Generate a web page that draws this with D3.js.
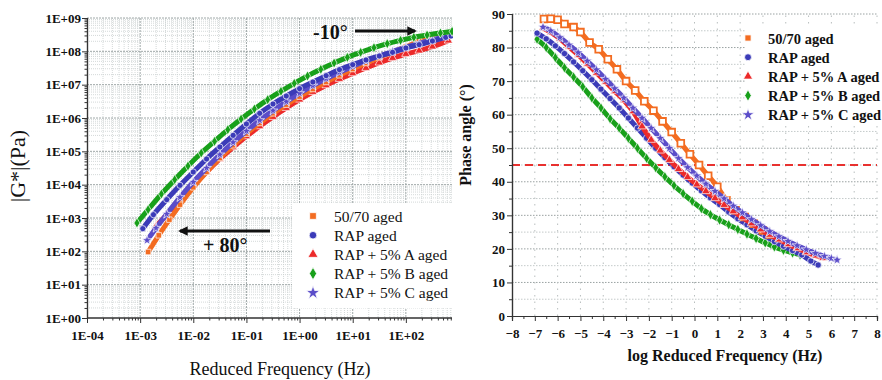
<!DOCTYPE html>
<html>
<head>
<meta charset="utf-8">
<script src="https://cdn.jsdelivr.net/npm/d3@7"></script>
<style>
  body { margin: 0; background: #fff; }
  svg { display: block; }
  text { font-family: "Liberation Serif", "DejaVu Serif", "Noto Serif", serif; fill: #111; }
</style>
</head>
<body>
<svg id="chart" width="882" height="380"></svg>
<script>
// series
const seriesNames = ["50/70 aged", "RAP aged", "RAP + 5% A aged", "RAP + 5% B aged", "RAP + 5% C aged"];
const seriesColors = ["#f36c21", "#3b3bb8", "#ec2a2a", "#18a01a", "#5b4dc9"];
const seriesSymbols = [d3.symbolSquare, d3.symbolCircle, d3.symbolTriangle, d3.symbolDiamond, d3.symbolStar];

// left: master curves, log10 reduced frequency (Hz) vs log10 |G*| (Pa)
const modFreq5070 = [-2.85,-2.65,-2.45,-2.25,-2.0,-1.75,-1.5,-1.25,-1.0,-0.75,-0.5,-0.25,0,0.25,0.5,0.75,1.0,1.25,1.5,1.75,2.0,2.25,2.5,2.6];
const modG5070    = [1.98,2.48,2.95,3.4,3.92,4.38,4.8,5.18,5.53,5.85,6.14,6.4,6.64,6.87,7.08,7.28,7.47,7.65,7.82,7.98,8.14,8.3,8.46,8.52];
const modFreqRAP  = [-2.95,-2.75,-2.5,-2.25,-2.0,-1.75,-1.5,-1.25,-1.0,-0.75,-0.5,-0.25,0,0.25,0.5,0.75,1.0,1.25,1.5,1.75,2.0,2.25,2.5,2.75,2.85];
const modGRAP     = [2.68,3.1,3.55,3.98,4.38,4.77,5.13,5.48,5.82,6.14,6.42,6.66,6.88,7.08,7.27,7.45,7.6,7.74,7.86,7.97,8.1,8.2,8.31,8.42,8.46];
const modFreqA    = [-2.7,-2.5,-2.25,-2.0,-1.75,-1.5,-1.25,-1.0,-0.75,-0.5,-0.25,0,0.25,0.5,0.75,1.0,1.25,1.5,1.75,2.0,2.25,2.5,2.8];
const modGA       = [2.75,3.1,3.55,3.98,4.38,4.77,5.12,5.45,5.75,6.03,6.3,6.55,6.78,6.98,7.17,7.34,7.5,7.66,7.8,7.92,8.02,8.14,8.32];
const modFreqB    = [-3.06,-2.85,-2.6,-2.35,-2.1,-1.85,-1.6,-1.35,-1.1,-0.85,-0.6,-0.35,-0.1,0.15,0.4,0.65,0.9,1.15,1.4,1.65,1.9,2.15,2.4,2.65,2.87];
const modGB       = [2.85,3.25,3.72,4.15,4.56,4.95,5.3,5.65,5.97,6.27,6.55,6.8,7.04,7.26,7.46,7.65,7.82,7.97,8.11,8.23,8.33,8.42,8.49,8.55,8.6];
const modFreqC    = [-2.87,-2.7,-2.5,-2.25,-2.0,-1.75,-1.5,-1.25,-1.0,-0.75,-0.5,-0.25,0,0.25,0.5,0.75,1.0,1.25,1.5,1.75,2.0,2.25,2.5,2.75];
const modGC       = [2.33,2.7,3.12,3.62,4.08,4.5,4.9,5.27,5.61,5.93,6.22,6.49,6.74,6.97,7.18,7.37,7.55,7.71,7.86,8.0,8.12,8.24,8.35,8.45];

// right: log10 reduced frequency vs phase angle (deg)
const phFreq5070 = [-6.6,-6.3,-6.0,-5.7,-5.3,-5.0,-4.6,-4.2,-3.8,-3.4,-3.0,-2.6,-2.2,-1.8,-1.4,-1.0,-0.6,-0.2,0.2,0.6,1.0,1.4,1.8,2.2,2.6,3.0,3.3];
const phAng5070  = [88.5,88.6,88.3,87.0,86.1,84.6,81.5,79.5,76.5,73.5,70.0,67.2,64.0,61.2,58.0,54.8,51.5,48.2,45.0,41.8,38.5,34.5,31.5,29.5,27.5,25.5,24.3];
const phFreqRAP  = [-6.9,-6.5,-6.1,-5.7,-5.3,-4.9,-4.5,-4.1,-3.7,-3.3,-2.9,-2.5,-2.1,-1.7,-1.3,-0.9,-0.5,-0.1,0.3,0.7,1.1,1.5,1.9,2.3,2.7,3.1,3.5,3.9,4.3,4.7,5.1,5.42];
const phAngRAP   = [84.3,82.6,80.5,78.2,75.7,73.1,70.4,67.6,64.8,62.0,59.0,56.0,53.0,50.0,47.2,44.5,42.0,39.6,37.3,35.2,33.2,31.0,29.0,27.2,25.4,23.8,22.2,20.8,19.5,18.2,16.4,15.2];
const phFreqA    = [-6.64,-6.3,-5.9,-5.5,-5.1,-4.7,-4.3,-3.9,-3.5,-3.1,-2.7,-2.3,-1.9,-1.5,-1.1,-0.7,-0.3,0.1,0.5,0.9,1.3,1.7,2.1,2.5,2.9,3.3,3.7,4.1,4.5,4.9,5.3,5.64];
const phAngA     = [85.8,84.5,82.6,80.2,77.8,75.2,72.5,69.8,67.0,64.3,61.0,56.5,52.5,49.3,46.5,43.8,41.4,39.2,37.2,35.1,33.1,31.2,29.4,27.6,25.8,24.2,22.8,21.4,20.2,19.0,18.0,17.3];
const phFreqB    = [-6.9,-6.5,-6.1,-5.7,-5.3,-4.9,-4.5,-4.1,-3.7,-3.3,-2.9,-2.5,-2.1,-1.7,-1.3,-0.9,-0.5,-0.1,0.3,0.7,1.1,1.5,1.9,2.3,2.7,3.1,3.5,3.9,4.3,4.63];
const phAngB     = [82.5,80.0,77.0,74.0,71.2,68.3,65.0,62.0,58.8,56.0,53.0,50.0,47.0,44.2,41.5,38.9,36.5,34.2,32.0,30.2,28.6,27.2,25.8,24.4,23.1,21.8,20.6,19.6,18.8,18.2];
const phFreqC    = [-6.64,-6.3,-5.9,-5.5,-5.1,-4.7,-4.3,-3.9,-3.5,-3.1,-2.7,-2.3,-1.9,-1.5,-1.1,-0.7,-0.3,0.1,0.5,0.9,1.3,1.7,2.1,2.5,2.9,3.3,3.7,4.1,4.5,4.9,5.3,5.7,6.0,6.25];
const phAngC     = [86.1,85.0,83.0,80.8,78.5,76.0,73.4,70.6,67.8,65.0,62.0,59.0,56.0,53.0,50.0,47.0,44.3,41.8,39.4,37.2,35.0,32.8,30.8,28.8,27.0,25.2,23.7,22.3,21.0,19.8,18.7,17.8,17.2,16.7];

const leftTicksX = [-4, -3, -2, -1, 0, 1, 2];
const leftTicksY = [0, 1, 2, 3, 4, 5, 6, 7, 8, 9];
const rightTicksX = d3.range(-8, 9);
const rightTicksY = [0, 10, 20, 30, 40, 50, 60, 70, 80, 90];
const refAngle = 45;

const zip = (xs, ys) => xs.map((x, i) => [x, ys[i]]);
const modSeries = [zip(modFreq5070, modG5070), zip(modFreqRAP, modGRAP), zip(modFreqA, modGA), zip(modFreqB, modGB), zip(modFreqC, modGC)];
const phSeries = [zip(phFreq5070, phAng5070), zip(phFreqRAP, phAngRAP), zip(phFreqA, phAngA), zip(phFreqB, phAngB), zip(phFreqC, phAngC)];

const svg = d3.select("#chart");
const defs = svg.append("defs");
defs.append("clipPath").attr("id", "left-clip")
  .append("rect").attr("x", 80).attr("y", 0).attr("width", 373).attr("height", 330);
defs.append("marker").attr("id", "arrow")
  .attr("viewBox", "0 0 10 10").attr("refX", 8).attr("refY", 5)
  .attr("markerWidth", 3.2).attr("markerHeight", 3.2).attr("orient", "auto-start-reverse")
  .append("path").attr("d", "M0,0L10,5L0,10z").attr("fill", "#111");

const expLabel = e => "1E" + (e < 0 ? "-" : "+") + String(Math.abs(e)).padStart(2, "0");

// ---------------- left chart ----------------
const xL = d3.scaleLog().domain([1e-4, 1e3]).range([87, 459]);
const yL = d3.scaleLog().domain([1, 1e9]).range([318, 18]);
const gL = svg.append("g");

const gridL = gL.append("g").attr("clip-path", "url(#left-clip)");
const minorX = [], minorY = [];
d3.range(-4, 3).forEach(e => d3.range(2, 10).forEach(k => minorX.push(k * 10 ** e)));
d3.range(0, 9).forEach(e => d3.range(2, 10).forEach(k => minorY.push(k * 10 ** e)));
gridL.selectAll(".mx").data(minorX).enter().append("line")
  .attr("x1", d => xL(d)).attr("x2", d => xL(d)).attr("y1", yL(1e9)).attr("y2", yL(1))
  .attr("stroke", "#c9cfcf").attr("stroke-width", 0.8).attr("stroke-dasharray", "1,1");
gridL.selectAll(".my").data(minorY).enter().append("line")
  .attr("x1", xL(1e-4)).attr("x2", 452).attr("y1", d => yL(d)).attr("y2", d => yL(d))
  .attr("stroke", "#c9cfcf").attr("stroke-width", 0.8).attr("stroke-dasharray", "1,1");
gridL.selectAll(".Mx").data(d3.range(-3, 3)).enter().append("line")
  .attr("x1", d => xL(10 ** d)).attr("x2", d => xL(10 ** d)).attr("y1", yL(1e9)).attr("y2", yL(1))
  .attr("stroke", "#9fa8a8").attr("stroke-width", 1).attr("stroke-dasharray", "2,1");
gridL.selectAll(".My").data(d3.range(1, 10)).enter().append("line")
  .attr("x1", xL(1e-4)).attr("x2", 452).attr("y1", d => yL(10 ** d)).attr("y2", d => yL(10 ** d))
  .attr("stroke", "#9fa8a8").attr("stroke-width", 1).attr("stroke-dasharray", "2,1");

// left legend background (covers grid)
gL.append("rect").attr("x", 292).attr("y", 203).attr("width", 160).attr("height", 105).attr("fill", "#fff");

// left data
const lineL = d3.line().x(d => xL(10 ** d[0])).y(d => yL(10 ** d[1])).curve(d3.curveMonotoneX);
const dataL = gL.append("g").attr("clip-path", "url(#left-clip)");
[2, 0, 4, 1, 3].forEach(i => {
  dataL.append("path").datum(modSeries[i]).attr("d", lineL)
    .attr("fill", "none").attr("stroke", seriesColors[i]).attr("stroke-width", 5).attr("stroke-linecap", "round");
  dataL.selectAll(".pL" + i).data(modSeries[i]).enter().append("path")
    .attr("transform", d => `translate(${xL(10 ** d[0])},${yL(10 ** d[1])})`)
    .attr("d", d3.symbol().type(seriesSymbols[i]).size(30))
    .attr("fill", seriesColors[i]).attr("stroke", "#fff").attr("stroke-width", 0.7);
});

// left axes
const axL = gL.append("g").attr("transform", "translate(87,0)")
  .call(d3.axisLeft(yL).tickValues(leftTicksY.map(e => 10 ** e)).tickSize(5).tickFormat(d => expLabel(Math.round(Math.log10(d)))));
gL.append("g").attr("transform", "translate(87,0)")
  .call(d3.axisLeft(yL).tickValues(minorY).tickSize(2.5).tickFormat(""));
const axB = gL.append("g").attr("transform", "translate(0,318)")
  .call(d3.axisBottom(xL).tickValues(leftTicksX.map(e => 10 ** e)).tickSize(5).tickFormat(d => expLabel(Math.round(Math.log10(d)))));
gL.append("g").attr("transform", "translate(0,318)")
  .call(d3.axisBottom(xL).tickValues(minorX.filter(v => xL(v) < 452)).tickSize(2.5).tickFormat(""));
gL.selectAll(".domain").attr("stroke", "#333").attr("stroke-width", 1.2);
gL.selectAll(".tick line").attr("stroke", "#333");
axL.selectAll("text").attr("font-size", 13).attr("font-weight", "bold").attr("x", -6);
axB.selectAll("text").attr("font-size", 13).attr("font-weight", "bold").attr("dy", "1.1em");
gL.selectAll(".domain").filter(function() { return this.parentNode.getAttribute("transform") === "translate(0,318)"; })
  .attr("d", "M87,0H452");

gL.append("text").attr("x", 280).attr("y", 375).attr("text-anchor", "middle").attr("font-size", 18).text("Reduced Frequency (Hz)");
gL.append("text").attr("transform", "translate(25,166) rotate(-90)").attr("text-anchor", "middle").attr("font-size", 22).text("|G*|(Pa)");

// annotations
gL.append("text").attr("x", 313).attr("y", 39).attr("font-size", 20).attr("font-weight", "bold").text("-10°");
gL.append("line").attr("x1", 355).attr("x2", 415).attr("y1", 31).attr("y2", 31)
  .attr("stroke", "#111").attr("stroke-width", 3).attr("marker-end", "url(#arrow)");
gL.append("line").attr("x1", 270).attr("x2", 180).attr("y1", 231).attr("y2", 231)
  .attr("stroke", "#111").attr("stroke-width", 3).attr("marker-end", "url(#arrow)");
gL.append("text").attr("x", 203).attr("y", 252).attr("font-size", 20).attr("font-weight", "bold").text("+ 80°");

// left legend
const legL = gL.append("g");
seriesNames.forEach((n, i) => {
  const y = 216 + i * 19.2;
  legL.append("path").attr("transform", `translate(313,${y})`)
    .attr("d", d3.symbol().type(seriesSymbols[i]).size(i === 4 ? 60 : 45))
    .attr("fill", seriesColors[i]).attr("stroke", "#fff").attr("stroke-width", 0.8);
  legL.append("text").attr("x", 334).attr("y", y + 5.5).attr("font-size", 15.5).text(n);
});

// ---------------- right chart ----------------
const xR = d3.scaleLinear().domain([-8, 8]).range([512, 877]);
const yR = d3.scaleLinear().domain([0, 90]).range([316, 14]);
const gR = svg.append("g");
gR.append("rect").attr("x", 453).attr("y", 0).attr("width", 429).attr("height", 380).attr("fill", "#fff");

const gridR = gR.append("g");
gridR.selectAll(".gy").data(d3.range(5, 95, 5)).enter().append("line")
  .attr("x1", xR(-8)).attr("x2", xR(8)).attr("y1", d => yR(d)).attr("y2", d => yR(d))
  .attr("stroke", d => d % 10 === 0 ? "#9aa2a2" : "#c4caca").attr("stroke-width", 1).attr("stroke-dasharray", "1.5,1.5");
gridR.selectAll(".gx").data(d3.range(-7, 9)).enter().append("line")
  .attr("x1", d => xR(d)).attr("x2", d => xR(d)).attr("y1", yR(0)).attr("y2", yR(90))
  .attr("stroke", "#b8bebe").attr("stroke-width", 1).attr("stroke-dasharray", "1.5,5");

gR.append("rect").attr("x", 745).attr("y", 28).attr("width", 137).attr("height", 96).attr("fill", "#fff");

gR.append("line").attr("x1", xR(-8)).attr("x2", xR(8)).attr("y1", yR(refAngle)).attr("y2", yR(refAngle))
  .attr("stroke", "#e8312f").attr("stroke-width", 2).attr("stroke-dasharray", "8,5");

const lineR = d3.line().x(d => xR(d[0])).y(d => yR(d[1])).curve(d3.curveMonotoneX);
[3, 1, 0, 2, 4].forEach(i => {
  gR.append("path").datum(phSeries[i]).attr("d", lineR)
    .attr("fill", "none").attr("stroke", seriesColors[i]).attr("stroke-width", 5).attr("stroke-linecap", "round");
  gR.selectAll(".pR" + i).data(phSeries[i]).enter().append("path")
    .attr("transform", d => `translate(${xR(d[0])},${yR(d[1])})`)
    .attr("d", d3.symbol().type(seriesSymbols[i]).size(i === 0 ? 45 : 32))
    .attr("fill", i === 0 ? "#fff" : seriesColors[i]).attr("stroke", i === 0 ? seriesColors[i] : "#fff")
    .attr("stroke-width", i === 0 ? 1.8 : 0.7);
});

const axRL = gR.append("g").attr("transform", `translate(${xR(-8)},0)`)
  .call(d3.axisLeft(yR).tickValues(rightTicksY).tickSize(5));
gR.append("g").attr("transform", `translate(${xR(-8)},0)`)
  .call(d3.axisLeft(yR).tickValues(d3.range(5, 95, 10)).tickSize(3).tickFormat(""));
const axRB = gR.append("g").attr("transform", `translate(0,${yR(0)})`)
  .call(d3.axisBottom(xR).tickValues(rightTicksX).tickSize(5));
gR.append("g").attr("transform", `translate(0,${yR(0)})`)
  .call(d3.axisBottom(xR).tickValues(d3.range(-7.5, 8, 1)).tickSize(3).tickFormat(""));
gR.selectAll(".domain").attr("stroke", "#333").attr("stroke-width", 1.2);
gR.selectAll(".tick line").attr("stroke", "#333");
axRL.selectAll("text").attr("font-size", 13).attr("font-weight", "bold").attr("x", -7);
axRB.selectAll("text").attr("font-size", 13).attr("font-weight", "bold").attr("dy", "1.05em");

gR.append("text").attr("x", 725).attr("y", 361).attr("text-anchor", "middle").attr("font-size", 16).attr("font-weight", "bold")
  .text("log Reduced Frequency (Hz)");
gR.append("text").attr("transform", "translate(471,135) rotate(-90)").attr("text-anchor", "middle").attr("font-size", 16).attr("font-weight", "bold")
  .text("Phase angle (°)");

const legR = gR.append("g");
seriesNames.forEach((n, i) => {
  const y = 38 + i * 19.2;
  legR.append("path").attr("transform", `translate(748,${y})`)
    .attr("d", d3.symbol().type(seriesSymbols[i]).size(i === 4 ? 50 : 38))
    .attr("fill", seriesColors[i]).attr("stroke", "#fff").attr("stroke-width", 0.8);
  legR.append("text").attr("x", 768).attr("y", y + 5.5).attr("font-size", 14.5).attr("font-weight", "bold").text(n);
});
</script>
</body>
</html>
